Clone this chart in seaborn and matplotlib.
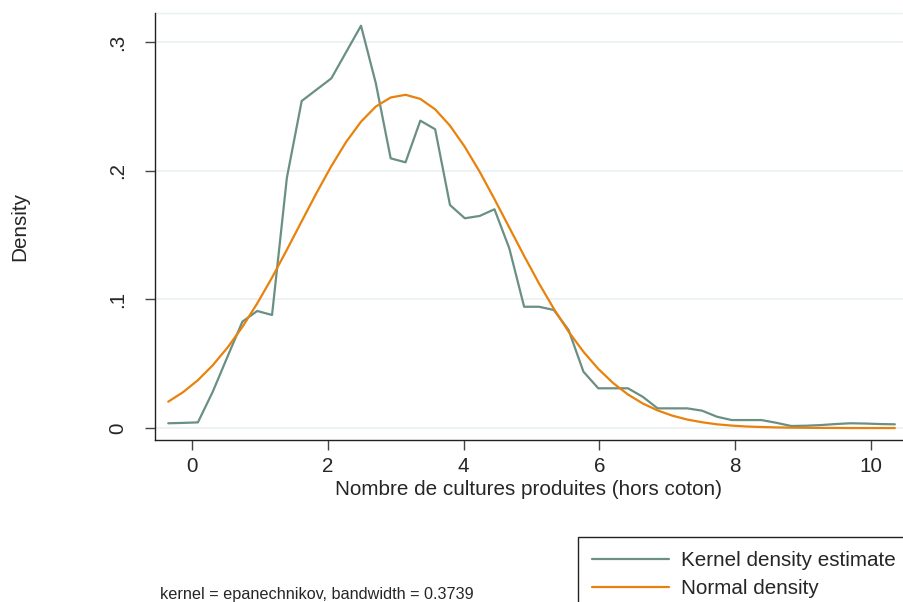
"""
Kernel density vs normal density, number of crops (excluding cotton).
"""

import matplotlib

matplotlib.use("Agg")

import matplotlib.pyplot as plt
import numpy as np
import seaborn as sns


# -----------------------------
# Data
# -----------------------------

GRID_START = -0.35
GRID_END = 10.35
N_POINTS = 50

kernel_density = [
    0.0037, 0.0040, 0.0044, 0.0282, 0.0556, 0.0827, 0.0910, 0.0879, 0.1946, 0.2543,
    0.2631, 0.2719, 0.2924, 0.3128, 0.2680, 0.2097, 0.2066, 0.2390, 0.2323, 0.1734,
    0.1631, 0.1649, 0.1701, 0.1397, 0.0943, 0.0943, 0.0918, 0.0762, 0.0438, 0.0309,
    0.0309, 0.0309, 0.0243, 0.0153, 0.0153, 0.0153, 0.0135, 0.0088, 0.0062, 0.0062,
    0.0062, 0.0041, 0.0016, 0.0018, 0.0023, 0.0031, 0.0037, 0.0035, 0.0031, 0.0029,
]

normal_density = [
    0.0205, 0.0279, 0.0372, 0.0488, 0.0626, 0.0786, 0.0969, 0.1170, 0.1386, 0.1608,
    0.1828, 0.2037, 0.2225, 0.2382, 0.2500, 0.2570, 0.2591, 0.2559, 0.2478, 0.2351,
    0.2186, 0.1993, 0.1780, 0.1559, 0.1338, 0.1125, 0.0928, 0.0749, 0.0593, 0.0460,
    0.0350, 0.0261, 0.0191, 0.0137, 0.0096, 0.0066, 0.0045, 0.0029, 0.0019, 0.0012,
    0.0008, 0.0005, 0.0003, 0.0002, 0.0001, 0.0001, 0.0000, 0.0000, 0.0000, 0.0000,
]

x_ticks = [0, 2, 4, 6, 8, 10]
y_ticks = [0, 0.1, 0.2, 0.3]
y_tick_labels = ["0", ".1", ".2", ".3"]


# -----------------------------
# Style
# -----------------------------

sns.set_style("white")
plt.rcParams["font.family"] = ["Liberation Sans", "DejaVu Sans"]

KDE_COLOR = "#6A8F84"
NORMAL_COLOR = "#E8820C"
GRID_COLOR = "#EAF1F3"
FONT_SIZE = 14.9


def main() -> None:
    x = np.linspace(GRID_START, GRID_END, N_POINTS)

    fig = plt.figure(figsize=(9.04, 6.02), dpi=100, facecolor="white")
    ax = fig.add_axes([155 / 904, 1 - 440 / 602, 748 / 904, 427 / 602])

    sns.lineplot(x=x, y=kernel_density, ax=ax, color=KDE_COLOR,
                 linewidth=1.6, label="Kernel density estimate")
    sns.lineplot(x=x, y=normal_density, ax=ax, color=NORMAL_COLOR,
                 linewidth=1.6, label="Normal density")

    ax.set_xlim(-0.545, 10.47)
    ax.set_ylim(-0.0093, 0.3227)

    ax.set_xticks(x_ticks)
    ax.set_yticks(y_ticks)
    ax.set_yticklabels(y_tick_labels, rotation=90, va="center")

    for y in y_ticks:
        ax.axhline(y, color=GRID_COLOR, linewidth=1.2, zorder=0)

    for side in ["top", "right"]:
        ax.spines[side].set_visible(False)
    ax.axhline(0.3227, color=GRID_COLOR, linewidth=1.0, zorder=0, clip_on=False)
    for side in ["left", "bottom"]:
        ax.spines[side].set_color("#222222")
        ax.spines[side].set_linewidth(1.0)

    ax.tick_params(axis="both", direction="out", length=7, width=1.0,
                   color="#444444", labelsize=FONT_SIZE)
    ax.tick_params(axis="x", bottom=True, pad=5.5)
    ax.tick_params(axis="y", left=True, pad=13)

    ax.set_xlabel("Nombre de cultures produites (hors coton)",
                  fontsize=FONT_SIZE, labelpad=2.5)
    ax.set_ylabel("Density", fontsize=FONT_SIZE)
    ax.yaxis.set_label_coords((29 - 155) / 748, 0.5)

    ax.legend(
        loc="upper left",
        bbox_to_anchor=(578 / 904, 1 - 537 / 602),
        bbox_transform=fig.transFigure,
        fontsize=FONT_SIZE,
        frameon=True,
        fancybox=False,
        edgecolor="#222222",
        framealpha=1,
        borderaxespad=0,
        handlelength=3.7,
        handletextpad=0.6,
        borderpad=0.7,
        labelspacing=0.4,
    ).get_frame().set_linewidth(1.0)

    fig.text(160 / 904, 1 - 594 / 602,
             "kernel = epanechnikov, bandwidth = 0.3739",
             fontsize=11.7, va="center", ha="left")

    fig.savefig("out.png", dpi=100, facecolor="white")
    plt.close(fig)


if __name__ == "__main__":
    main()
